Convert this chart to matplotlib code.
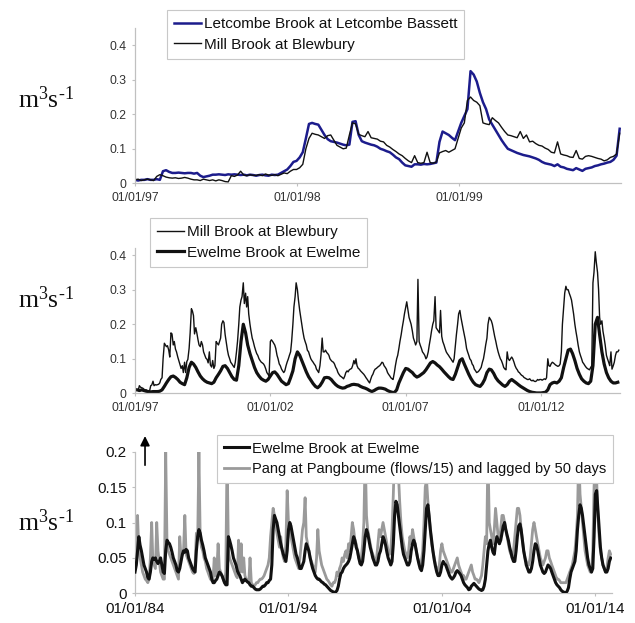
import numpy as np
import pandas as pd
import matplotlib
matplotlib.use("Agg")
import matplotlib.pyplot as plt
import matplotlib.dates as mdates
from matplotlib.ticker import FuncFormatter

plt.rcParams['font.family'] = ['Liberation Sans', 'DejaVu Sans']
plt.rcParams['mathtext.fontset'] = 'custom'
plt.rcParams['mathtext.rm'] = 'Liberation Serif'
plt.rcParams['mathtext.it'] = 'Liberation Serif:italic'

# ---------------- Panel 1 : weekly values, 1997-1999 ----------------
letcombe_p1 = [
    0.010,0.008,0.010,0.010,0.012,0.010,0.010,0.012,0.010,0.035,0.038,0.033,0.030,
    0.030,0.031,0.030,0.029,0.030,0.030,0.028,0.030,0.022,0.018,0.020,0.022,0.025,
    0.025,0.026,0.025,0.024,0.026,0.025,0.026,0.025,0.024,0.025,0.023,0.025,0.024,
    0.022,0.024,0.025,0.023,0.022,0.025,0.024,0.025,0.030,0.035,0.040,0.050,0.062,
    0.065,0.075,0.090,0.130,0.172,0.175,0.172,0.170,0.155,0.140,0.128,0.122,0.120,
    0.118,0.115,0.112,0.110,0.112,0.178,0.180,0.140,0.122,0.118,0.115,0.112,0.110,
    0.106,0.100,0.097,0.093,0.090,0.083,0.075,0.070,0.060,0.052,0.050,0.048,0.055,
    0.055,0.054,0.056,0.055,0.056,0.058,0.060,0.120,0.150,0.145,0.140,0.132,0.125,
    0.150,0.175,0.195,0.215,0.325,0.315,0.295,0.262,0.235,0.215,0.185,0.170,0.155,
    0.140,0.125,0.112,0.100,0.096,0.092,0.088,0.085,0.082,0.080,0.078,0.075,0.072,
    0.068,0.062,0.058,0.056,0.054,0.050,0.055,0.048,0.046,0.042,0.040,0.038,0.044,
    0.040,0.036,0.042,0.044,0.046,0.050,0.052,0.055,0.057,0.060,0.062,0.068,0.080,0.158,
]
mill_p1 = [
    0.010,0.012,0.008,0.010,0.012,0.010,0.008,0.020,0.025,0.022,0.018,0.016,0.015,
    0.016,0.014,0.015,0.017,0.015,0.012,0.010,0.010,0.008,0.012,0.010,0.008,0.010,
    0.007,0.010,0.008,0.005,0.004,0.022,0.020,0.024,0.035,0.024,0.022,0.025,0.023,
    0.023,0.025,0.022,0.027,0.024,0.023,0.025,0.022,0.026,0.030,0.028,0.035,0.040,
    0.040,0.045,0.055,0.100,0.130,0.145,0.142,0.140,0.135,0.130,0.138,0.140,0.125,
    0.110,0.105,0.100,0.102,0.140,0.175,0.172,0.142,0.138,0.135,0.150,0.132,0.130,
    0.128,0.122,0.120,0.110,0.105,0.098,0.092,0.085,0.080,0.072,0.065,0.060,0.080,
    0.060,0.058,0.060,0.090,0.060,0.058,0.062,0.088,0.092,0.095,0.090,0.095,0.100,
    0.130,0.160,0.175,0.240,0.250,0.240,0.235,0.225,0.175,0.172,0.170,0.190,0.182,
    0.175,0.162,0.150,0.140,0.138,0.135,0.132,0.150,0.130,0.140,0.120,0.122,0.115,
    0.110,0.108,0.102,0.098,0.090,0.088,0.120,0.085,0.082,0.080,0.076,0.075,0.095,
    0.072,0.070,0.078,0.080,0.078,0.075,0.072,0.070,0.065,0.068,0.075,0.078,0.085,0.145,
]

# ---------------- Panel 2 : 1997-2014 ----------------
# Mill Brook, semi-monthly (1st and 15th of each month)
mill_p2 = [
    0.010,0.012,0.010,0.010,0.022,0.018,0.016,0.015,0.012,0.010,0.010,0.008,0.007,0.005,0.022,0.024,0.035,0.022,0.025,0.024,0.025,0.026,0.030,0.040,
    0.045,0.100,0.145,0.140,0.135,0.138,0.125,0.105,0.175,0.172,0.140,0.150,0.128,0.120,0.105,0.095,0.082,0.072,0.080,0.060,0.090,0.060,0.092,0.098,
    0.130,0.175,0.245,0.238,0.225,0.172,0.190,0.175,0.155,0.140,0.135,0.150,0.140,0.120,0.110,0.102,0.098,0.088,0.120,0.082,0.076,0.095,0.072,0.080,
    0.150,0.145,0.140,0.150,0.160,0.200,0.210,0.205,0.170,0.150,0.125,0.110,0.100,0.090,0.085,0.080,0.075,0.090,0.120,0.150,0.200,0.250,0.270,0.280,
    0.320,0.260,0.290,0.250,0.280,0.230,0.200,0.180,0.160,0.150,0.135,0.125,0.115,0.110,0.100,0.095,0.090,0.088,0.085,0.080,0.070,0.060,0.055,0.050,
    0.150,0.155,0.150,0.145,0.140,0.130,0.110,0.100,0.085,0.080,0.070,0.065,0.060,0.065,0.080,0.090,0.100,0.110,0.120,0.150,0.200,0.250,0.280,0.320,
    0.300,0.270,0.240,0.220,0.200,0.180,0.160,0.150,0.140,0.125,0.120,0.110,0.100,0.095,0.090,0.085,0.080,0.070,0.065,0.060,0.080,0.110,0.160,0.120,
    0.120,0.125,0.118,0.115,0.110,0.100,0.095,0.092,0.090,0.085,0.075,0.070,0.060,0.055,0.050,0.048,0.045,0.042,0.050,0.060,0.065,0.062,0.068,0.070,
    0.072,0.080,0.095,0.085,0.100,0.080,0.072,0.070,0.065,0.062,0.058,0.055,0.050,0.045,0.040,0.035,0.030,0.040,0.050,0.055,0.065,0.070,0.072,0.075,
    0.078,0.080,0.085,0.090,0.088,0.080,0.075,0.070,0.060,0.055,0.050,0.045,0.042,0.040,0.060,0.080,0.100,0.110,0.130,0.150,0.170,0.190,0.210,0.230,
    0.250,0.265,0.240,0.220,0.210,0.200,0.180,0.160,0.150,0.140,0.150,0.330,0.150,0.140,0.130,0.120,0.115,0.110,0.100,0.105,0.120,0.140,0.160,0.180,
    0.200,0.210,0.280,0.190,0.185,0.180,0.175,0.240,0.165,0.150,0.140,0.130,0.120,0.115,0.110,0.105,0.100,0.095,0.090,0.100,0.140,0.170,0.200,0.230,
    0.240,0.220,0.200,0.185,0.170,0.155,0.130,0.120,0.110,0.100,0.095,0.085,0.080,0.070,0.065,0.060,0.062,0.065,0.070,0.075,0.090,0.100,0.120,0.140,
    0.160,0.200,0.220,0.215,0.210,0.200,0.180,0.165,0.150,0.135,0.120,0.110,0.100,0.095,0.085,0.075,0.070,0.068,0.120,0.100,0.095,0.100,0.105,0.100,
    0.090,0.080,0.072,0.068,0.062,0.060,0.055,0.052,0.050,0.046,0.044,0.042,0.040,0.040,0.042,0.038,0.036,0.038,0.035,0.034,0.036,0.040,0.038,0.040,
    0.040,0.038,0.040,0.042,0.040,0.045,0.100,0.080,0.078,0.085,0.090,0.088,0.085,0.082,0.080,0.078,0.080,0.085,0.120,0.200,0.250,0.290,0.310,0.300,
    0.300,0.290,0.280,0.270,0.250,0.230,0.200,0.180,0.160,0.140,0.120,0.110,0.100,0.090,0.085,0.080,0.075,0.072,0.070,0.068,0.075,0.080,0.320,0.350,
    0.410,0.380,0.350,0.300,0.220,0.200,0.210,0.180,0.160,0.140,0.110,0.100,0.090,0.080,0.120,0.070,0.080,0.090,0.110,0.120,0.120,0.125,
]
# Ewelme Brook, monthly
ewelme_p2 = [
    0.010,0.010,0.008,0.010,0.008,0.006,0.005,0.004,0.005,0.005,0.005,0.006,
    0.010,0.020,0.030,0.040,0.048,0.050,0.046,0.040,0.032,0.028,0.025,0.045,
    0.075,0.090,0.085,0.075,0.062,0.050,0.042,0.036,0.032,0.030,0.028,0.032,
    0.045,0.055,0.065,0.078,0.080,0.072,0.060,0.048,0.040,0.038,0.080,0.150,
    0.200,0.175,0.140,0.115,0.095,0.075,0.060,0.050,0.042,0.038,0.035,0.040,
    0.050,0.060,0.062,0.055,0.045,0.035,0.030,0.025,0.028,0.045,0.065,0.100,
    0.120,0.110,0.095,0.078,0.062,0.048,0.038,0.028,0.020,0.016,0.022,0.032,
    0.045,0.046,0.045,0.040,0.032,0.025,0.020,0.017,0.015,0.016,0.020,0.022,
    0.025,0.026,0.025,0.024,0.020,0.017,0.015,0.012,0.008,0.005,0.008,0.012,
    0.015,0.015,0.014,0.012,0.008,0.005,0.003,0.002,0.010,0.030,0.045,0.060,
    0.072,0.070,0.065,0.060,0.052,0.047,0.050,0.055,0.060,0.068,0.078,0.088,
    0.092,0.088,0.082,0.077,0.070,0.062,0.055,0.048,0.042,0.040,0.055,0.075,
    0.095,0.100,0.085,0.070,0.055,0.042,0.032,0.025,0.022,0.020,0.028,0.040,
    0.060,0.070,0.068,0.058,0.045,0.036,0.030,0.024,0.020,0.025,0.035,0.040,
    0.035,0.030,0.025,0.020,0.016,0.012,0.008,0.005,0.003,0.002,0.001,0.001,
    0.001,0.002,0.003,0.010,0.025,0.030,0.032,0.030,0.035,0.045,0.075,0.100,
    0.125,0.128,0.115,0.095,0.072,0.055,0.042,0.035,0.030,0.028,0.035,0.080,
    0.200,0.220,0.170,0.120,0.085,0.060,0.045,0.035,0.030,0.030,0.032,
]

# ---------------- Panel 3 : monthly, 1984-2015 ----------------
ewelme_p3 = [
    0.030,0.040,0.060,0.080,0.068,0.060,0.050,0.040,0.035,0.030,0.022,0.020,
    0.030,0.045,0.050,0.048,0.050,0.045,0.042,0.045,0.050,0.040,0.030,0.028,
    0.060,0.075,0.072,0.070,0.065,0.058,0.050,0.045,0.040,0.032,0.030,0.035,
    0.045,0.055,0.060,0.058,0.062,0.060,0.050,0.045,0.040,0.035,0.032,0.030,
    0.060,0.080,0.090,0.085,0.075,0.068,0.060,0.050,0.045,0.040,0.035,0.030,
    0.020,0.015,0.015,0.018,0.020,0.025,0.030,0.028,0.025,0.020,0.015,0.012,
    0.012,0.080,0.075,0.068,0.060,0.050,0.045,0.040,0.032,0.028,0.025,0.020,
    0.015,0.018,0.020,0.018,0.016,0.015,0.012,0.010,0.010,0.008,0.006,0.005,
    0.005,0.005,0.006,0.008,0.010,0.010,0.012,0.015,0.015,0.018,0.020,0.040,
    0.090,0.110,0.105,0.100,0.090,0.080,0.070,0.062,0.055,0.050,0.045,0.060,
    0.090,0.100,0.095,0.085,0.075,0.065,0.055,0.050,0.042,0.035,0.035,0.040,
    0.045,0.060,0.070,0.065,0.060,0.050,0.042,0.035,0.030,0.025,0.022,0.020,
    0.020,0.018,0.016,0.015,0.013,0.012,0.010,0.008,0.006,0.004,0.003,0.002,
    0.001,0.002,0.004,0.010,0.020,0.028,0.030,0.035,0.038,0.040,0.042,0.045,
    0.050,0.060,0.070,0.080,0.075,0.065,0.060,0.050,0.042,0.040,0.045,0.060,
    0.080,0.090,0.085,0.075,0.065,0.058,0.050,0.045,0.040,0.040,0.045,0.055,
    0.060,0.070,0.080,0.075,0.068,0.058,0.050,0.045,0.040,0.045,0.070,0.110,
    0.130,0.125,0.110,0.095,0.080,0.065,0.055,0.050,0.045,0.040,0.040,0.045,
    0.060,0.070,0.075,0.070,0.060,0.050,0.042,0.035,0.032,0.040,0.060,0.090,
    0.120,0.125,0.110,0.090,0.075,0.060,0.048,0.038,0.030,0.025,0.025,0.030,
    0.040,0.045,0.042,0.040,0.035,0.030,0.025,0.022,0.020,0.022,0.025,0.030,
    0.032,0.030,0.028,0.025,0.020,0.015,0.012,0.010,0.008,0.005,0.006,0.010,
    0.012,0.014,0.012,0.010,0.008,0.006,0.005,0.004,0.005,0.010,0.020,0.040,
    0.060,0.070,0.075,0.065,0.058,0.055,0.070,0.080,0.075,0.070,0.075,0.085,
    0.095,0.100,0.090,0.082,0.075,0.065,0.058,0.050,0.045,0.045,0.060,0.080,
    0.095,0.098,0.090,0.075,0.060,0.050,0.040,0.035,0.030,0.030,0.035,0.045,
    0.060,0.070,0.068,0.060,0.050,0.040,0.035,0.030,0.028,0.030,0.035,0.040,
    0.038,0.035,0.030,0.025,0.020,0.015,0.012,0.010,0.008,0.005,0.003,0.002,
    0.001,0.001,0.003,0.008,0.020,0.030,0.035,0.040,0.045,0.060,0.090,0.110,
    0.125,0.120,0.110,0.095,0.080,0.065,0.050,0.040,0.035,0.030,0.035,0.080,
    0.140,0.145,0.120,0.090,0.065,0.050,0.040,0.035,0.030,0.030,0.035,0.045,
    0.050,
]
pang_p3 = [
    0.045,0.090,0.110,0.060,0.050,0.040,0.030,0.025,0.020,0.018,0.015,0.020,
    0.050,0.100,0.045,0.040,0.035,0.100,0.060,0.045,0.030,0.025,0.020,0.020,
    0.200,0.070,0.060,0.055,0.050,0.045,0.040,0.035,0.030,0.025,0.020,0.080,
    0.050,0.055,0.060,0.110,0.055,0.050,0.045,0.040,0.035,0.030,0.028,0.040,
    0.085,0.075,0.200,0.080,0.065,0.060,0.050,0.045,0.035,0.030,0.025,0.020,
    0.018,0.020,0.050,0.025,0.030,0.070,0.035,0.030,0.025,0.020,0.015,0.030,
    0.200,0.060,0.050,0.045,0.040,0.035,0.030,0.025,0.022,0.075,0.030,0.070,
    0.030,0.050,0.025,0.020,0.018,0.015,0.050,0.015,0.012,0.010,0.012,0.015,
    0.015,0.018,0.020,0.020,0.022,0.025,0.030,0.035,0.040,0.050,0.080,0.100,
    0.120,0.110,0.095,0.085,0.075,0.065,0.080,0.060,0.050,0.045,0.070,0.145,
    0.100,0.090,0.080,0.070,0.060,0.050,0.045,0.040,0.035,0.050,0.070,0.090,
    0.100,0.135,0.080,0.070,0.060,0.050,0.045,0.040,0.035,0.030,0.050,0.090,
    0.060,0.050,0.040,0.035,0.030,0.025,0.020,0.018,0.015,0.012,0.010,0.015,
    0.015,0.020,0.030,0.025,0.035,0.040,0.050,0.045,0.055,0.060,0.050,0.070,
    0.060,0.080,0.100,0.090,0.075,0.070,0.060,0.050,0.045,0.050,0.070,0.100,
    0.200,0.110,0.090,0.080,0.070,0.060,0.055,0.050,0.045,0.050,0.070,0.090,
    0.080,0.090,0.100,0.090,0.080,0.070,0.060,0.055,0.060,0.090,0.140,0.200,
    0.200,0.200,0.170,0.130,0.100,0.080,0.070,0.060,0.055,0.050,0.060,0.080,
    0.070,0.090,0.080,0.070,0.060,0.050,0.045,0.040,0.045,0.060,0.100,0.150,
    0.160,0.130,0.110,0.090,0.070,0.060,0.050,0.040,0.035,0.030,0.040,0.060,
    0.070,0.060,0.055,0.050,0.045,0.040,0.035,0.030,0.030,0.035,0.040,0.045,
    0.050,0.040,0.035,0.030,0.025,0.025,0.020,0.020,0.025,0.030,0.035,0.040,
    0.030,0.025,0.020,0.020,0.018,0.015,0.020,0.025,0.040,0.060,0.080,0.070,
    0.200,0.100,0.090,0.080,0.070,0.090,0.120,0.100,0.080,0.070,0.090,0.110,
    0.110,0.100,0.090,0.080,0.070,0.060,0.055,0.050,0.060,0.080,0.100,0.120,
    0.120,0.110,0.090,0.075,0.060,0.050,0.045,0.040,0.040,0.050,0.070,0.090,
    0.100,0.090,0.080,0.070,0.060,0.050,0.045,0.040,0.045,0.050,0.060,0.060,
    0.050,0.045,0.040,0.035,0.030,0.025,0.020,0.020,0.018,0.015,0.015,0.015,
    0.015,0.015,0.020,0.025,0.030,0.035,0.040,0.050,0.060,0.080,0.110,0.200,
    0.140,0.120,0.100,0.080,0.060,0.050,0.040,0.035,0.030,0.030,0.060,0.150,
    0.200,0.160,0.110,0.080,0.060,0.050,0.040,0.035,0.030,0.035,0.050,0.060,
    0.055,
]

labels_p1 = ["Letcombe Brook at Letcombe Bassett", "Mill Brook at Blewbury"]
labels_p2 = ["Mill Brook at Blewbury", "Ewelme Brook at Ewelme"]
labels_p3 = ["Ewelme Brook at Ewelme", "Pang at Pangboume (flows/15) and lagged by 50 days"]
ticks_p1 = ["1997-01-01", "1998-01-01", "1999-01-01"]
ticks_p2 = ["1997-01-01", "2002-01-01", "2007-01-01", "2012-01-01"]
ticks_p3 = ["1984-01-01", "1994-01-01", "2004-01-01", "2014-01-01"]
ylabel = "$\\mathrm{m}^{3}\\mathrm{s}^{\u20101}$"

# ---------------- dates ----------------
d_p1 = pd.date_range("1997-01-01", periods=len(letcombe_p1), freq="7D")
d_mill2 = pd.date_range("1997-01-01", periods=len(mill_p2), freq="SMS")
d_ew2 = pd.date_range("1997-01-01", periods=len(ewelme_p2), freq="MS")
d_ew3 = pd.date_range("1984-01-01", periods=len(ewelme_p3), freq="MS")
d_pang3 = pd.date_range("1984-01-01", periods=len(pang_p3), freq="MS")

W, H = 635, 623
fig = plt.figure(figsize=(W / 100, H / 100), dpi=100)

def box(l, t, r, b):
    return [l / W, 1 - b / H, (r - l) / W, (b - t) / H]

spine_c = "#c0c0c0"
txt_c = "#333333"

def style(ax, fs):
    for s in ("top", "right"):
        ax.spines[s].set_visible(False)
    for s in ("left", "bottom"):
        ax.spines[s].set_color(spine_c)
        ax.spines[s].set_linewidth(0.9)
    ax.tick_params(axis="both", colors=spine_c, labelcolor=txt_c, labelsize=fs,
                   length=2.5, width=0.8, direction="out")
    ax.tick_params(axis="y", pad=3.5)
    ax.tick_params(axis="x", pad=4)
    ax.yaxis.set_major_formatter(FuncFormatter(lambda v, p: f"{v:g}"))
    ax.xaxis.set_major_formatter(mdates.DateFormatter("%d/%m/%y"))

def legend(ax, handles, labels, x, y, fs=11):
    lg = ax.legend(handles, labels, loc="upper left", bbox_to_anchor=(x / W, 1 - y / H),
                   bbox_transform=fig.transFigure, fontsize=fs, frameon=True, fancybox=False,
                   framealpha=1, edgecolor="#c8c8c8", borderaxespad=0, handlelength=1.75,
                   handletextpad=0.2, borderpad=0.45, labelspacing=0.45)
    lg.get_frame().set_linewidth(0.8)
    lg.set_zorder(10)
    for t in lg.get_texts():
        t.set_color("#111111")
    return lg

# ---------------- Panel 1 ----------------
ax1 = fig.add_axes(box(135, 28, 621, 183.3))
l1, = ax1.plot(d_p1, letcombe_p1, color="#1c1c8c", lw=1.8)
l2, = ax1.plot(d_p1, mill_p1, color="#111111", lw=1.0)
ax1.set_ylim(0, 0.45)
ax1.set_yticks([0, 0.1, 0.2, 0.3, 0.4])
ax1.set_xlim(pd.Timestamp("1997-01-01"), pd.Timestamp("2000-01-01"))
ax1.set_xticks(pd.to_datetime(ticks_p1))
style(ax1, 8.8)
legend(ax1, [l1, l2], labels_p1, 167, 10, fs=11)

# ---------------- Panel 2 ----------------
ax2 = fig.add_axes(box(135, 248.3, 620, 393.3))
m1, = ax2.plot(d_mill2, mill_p2, color="#111111", lw=1.0)
m2, = ax2.plot(d_ew2, ewelme_p2, color="#111111", lw=2.3)
ax2.set_ylim(0, 0.42)
ax2.set_yticks([0, 0.1, 0.2, 0.3, 0.4])
ax2.set_xlim(pd.Timestamp("1997-01-01"), pd.Timestamp("2014-12-01"))
ax2.set_xticks(pd.to_datetime(ticks_p2))
style(ax2, 8.8)
legend(ax2, [m1, m2], labels_p2, 150, 218, fs=11)

# ---------------- Panel 3 ----------------
ax3 = fig.add_axes(box(135, 451.7, 612, 593.3))
p2, = ax3.plot(d_pang3, pang_p3, color="#9a9a9a", lw=2.0, zorder=2)
p1, = ax3.plot(d_ew3, ewelme_p3, color="#111111", lw=2.2, zorder=3)
ax3.set_ylim(0, 0.2)
ax3.set_yticks([0, 0.05, 0.1, 0.15, 0.2])
ax3.set_xlim(pd.Timestamp("1984-01-01"), pd.Timestamp("2015-02-01"))
ax3.set_xticks(pd.to_datetime(ticks_p3))
style(ax3, 11)
ax3.tick_params(labelcolor="#111111")
legend(ax3, [p1, p2], labels_p3, 217, 435, fs=10.5)
ax3.annotate("", xy=(0.021, 1.13), xytext=(0.021, 0.885), xycoords="axes fraction",
             textcoords="axes fraction", annotation_clip=False,
             arrowprops=dict(arrowstyle="-|>", color="black", lw=1.2, mutation_scale=14))

# y labels
for yc in (100, 300, 523):
    fig.text(18 / W, 1 - yc / H, ylabel, fontsize=18.5, ha="left", va="center",
             color="#111111", family=["Liberation Serif", "DejaVu Serif"])

fig.savefig("out.png", dpi=100)
